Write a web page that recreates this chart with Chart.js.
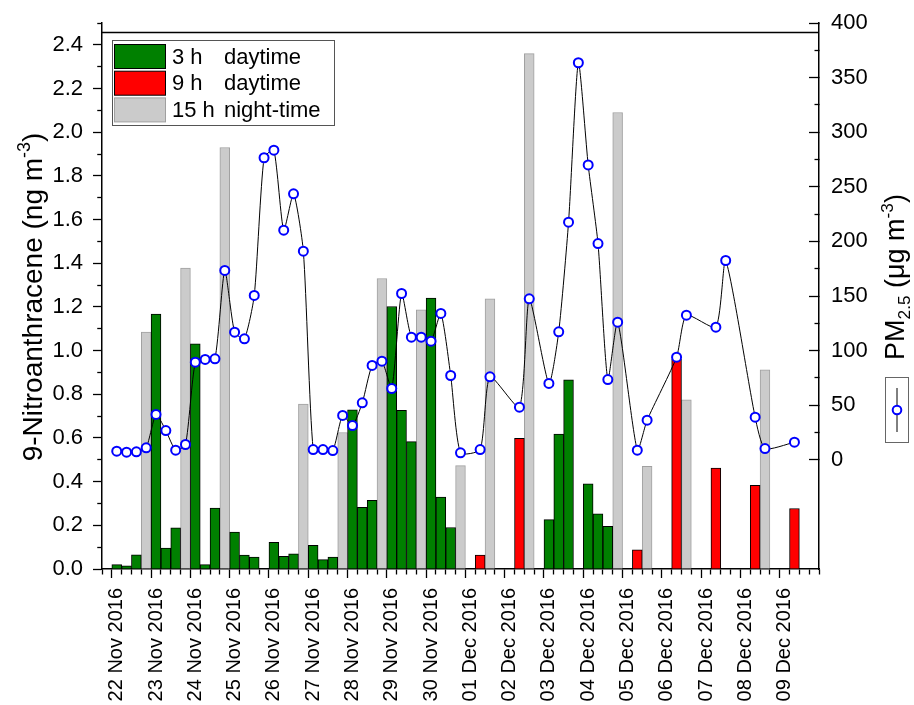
<!DOCTYPE html>
<html>
<head>
<meta charset="utf-8">
<script src="https://cdn.jsdelivr.net/npm/chart.js@4.4.0/dist/chart.umd.min.js"></script>
<style>
html,body{margin:0;padding:0;background:#ffffff;}
#wrap{width:914px;height:705px;position:relative;}
</style>
</head>
<body>
<div id="wrap"><canvas id="c" width="914" height="705"></canvas></div>
<script>
// ---- Data (sample time in days since 22 Nov 2016 00:00) ----
const dateLabels = ['22 Nov 2016','23 Nov 2016','24 Nov 2016','25 Nov 2016','26 Nov 2016','27 Nov 2016',
  '28 Nov 2016','29 Nov 2016','30 Nov 2016','01 Dec 2016','02 Dec 2016','03 Dec 2016','04 Dec 2016',
  '05 Dec 2016','06 Dec 2016','07 Dec 2016','08 Dec 2016','09 Dec 2016'];

const day3hTimes  = [0,0.25,0.5, 1,1.25,1.5, 2,2.25,2.5, 3,3.25,3.5, 4,4.25,4.5, 5,5.25,5.5,
                     6,6.25,6.5, 7,7.25,7.5, 8,8.25,8.5, 11,11.25,11.5, 12,12.25,12.5];
const day3hValues = [0.020,0.015,0.065, 1.167,0.096,0.188, 1.031,0.020,0.279, 0.169,0.064,0.055,
                     0.122,0.058,0.069, 0.108,0.043,0.055, 0.729,0.282,0.314, 1.202,0.726,0.583,
                     1.240,0.329,0.190, 0.226,0.618,0.866, 0.390,0.253,0.195];

const day9hTimes  = [9.25, 10.25, 13.25, 14.25, 15.25, 16.25, 17.25];
const day9hValues = [0.064, 0.598, 0.088, 0.960, 0.462, 0.383, 0.277];

const night15hTimes  = [0.75, 1.75, 2.75, 4.75, 5.75, 6.75, 7.75, 8.75, 9.5, 10.5, 12.75, 13.5, 14.5, 16.5];
const night15hValues = [1.085, 1.378, 1.930, 0.755, 0.625, 1.330, 1.187, 0.473, 1.237, 2.360, 2.090, 0.470, 0.775, 0.912];

const pmTimes  = [0,0.25,0.5,0.75, 1,1.25,1.5,1.75, 2,2.25,2.5,2.75, 3,3.25,3.5,3.75, 4,4.25,4.5,4.75,
                  5,5.25,5.5,5.75, 6,6.25,6.5,6.75, 7,7.25,7.5,7.75, 8,8.25,8.5,8.75, 9.25,9.5,
                  10.25,10.5, 11,11.25,11.5,11.75, 12,12.25,12.5,12.75, 13.25,13.5, 14.25,14.5,
                  15.25,15.5, 16.25,16.5, 17.25];
const pmValues = [7.9,7.0,7.3,11.0, 41.5,26.8,8.8,14.0, 89.4,91.9,92.5,173.4, 116.9,110.8,150.5,276.6,
                  283.5,210.3,243.6,191.0, 9.4,9.4,8.5,40.6, 31.4,52.2,86.4,90.3, 65.3,152.3,112.3,112.3,
                  108.6,134.0,77.2,6.4, 9.4,76.0, 48.2,147.4, 69.9,117.2,217.6,363.6, 270.0,198.0,73.5,126.0,
                  8.8,36.3, 94.0,132.4, 121.4,182.5, 39.0,10.3, 16.1];

const xTickValues  = []; for (let k = -1; k <= 71; k++) xTickValues.push(k / 4);
const yTickValues  = []; for (let k = 0; k <= 25; k++) yTickValues.push(k / 10);
const y2TickValues = []; for (let k = 0; k <= 16; k++) y2TickValues.push(k * 25);

const FONT = "'Liberation Sans', Arial, Helvetica, sans-serif";
Chart.defaults.font.family = FONT;
Chart.defaults.color = '#000';

function pts(xs, ys) { return xs.map((x, i) => ({x: x, y: ys[i]})); }

const isMajorX  = v => Number.isInteger(v);
const isMajorY  = v => Math.round(v * 10) % 2 === 0;
const isMajorY2 = v => Math.round(v) % 50 === 0;

// ---- decoration plugin: legend, rotated legend, titles with sub/superscripts, top frame ----
function drawRich(ctx, parts, cx, cy, size) {
  const small = size * 0.64;
  let total = 0;
  parts.forEach(p => {
    ctx.font = (p.sub || p.sup ? small : size) + 'px ' + FONT;
    p.w = ctx.measureText(p.t).width;
    total += p.w;
  });
  ctx.save();
  ctx.translate(cx, cy);
  ctx.rotate(-Math.PI / 2);
  ctx.textBaseline = 'alphabetic';
  ctx.textAlign = 'left';
  ctx.fillStyle = '#000';
  let u = -total / 2;
  parts.forEach(p => {
    ctx.font = (p.sub || p.sup ? small : size) + 'px ' + FONT;
    const dv = p.sup ? -size * 0.42 : (p.sub ? size * 0.22 : 0);
    ctx.fillText(p.t, u, dv);
    u += p.w;
  });
  ctx.restore();
}

const decor = {
  id: 'decor',
  afterDraw(chart) {
    const ctx = chart.ctx;
    const area = chart.chartArea;
    const ys = chart.scales.y;
    ctx.save();
    // top frame line
    const yTop = Math.round(ys.getPixelForValue(2.46)) + 0.5;
    ctx.strokeStyle = '#000';
    ctx.lineWidth = 1.5;
    ctx.beginPath();
    ctx.moveTo(area.left, yTop);
    ctx.lineTo(area.right, yTop);
    ctx.stroke();

    // bar legend (top-left box)
    const bx = 112.5, by = 40.5, bw = 222, bh = 85;
    ctx.fillStyle = '#fff';
    ctx.fillRect(bx, by, bw, bh);
    ctx.strokeStyle = '#555';
    ctx.lineWidth = 1;
    ctx.strokeRect(bx, by, bw, bh);
    const barSets = chart.data.datasets.filter(d => d.type !== 'line');
    ctx.font = '22px ' + FONT;
    ctx.textBaseline = 'middle';
    ctx.textAlign = 'left';
    barSets.forEach((d, i) => {
      const sy = 44.5 + i * 26.7;
      ctx.fillStyle = d.backgroundColor;
      ctx.fillRect(114.5, sy, 51, 24);
      ctx.strokeStyle = d.borderColor;
      ctx.lineWidth = 1;
      ctx.strokeRect(114.5, sy, 51, 24);
      const m = d.label.match(/^(\S+ h)\s+(.*)$/);
      ctx.fillStyle = '#000';
      ctx.fillText(m[1], 172, sy + 13);
      ctx.fillText(m[2], 224, sy + 13);
    });

    // axis titles
    drawRich(ctx, [{t: '9-Nitroanthracene (ng m'}, {t: '-3', sup: true}, {t: ')'}], 42, 297, 28);
    drawRich(ctx, [{t: 'PM'}, {t: '2.5', sub: true}, {t: ' (\u03bcg m'}, {t: '-3', sup: true}, {t: ')'}], 904, 277, 27);

    // PM2.5 legend (rotated)
    const line = chart.data.datasets.find(d => d.type === 'line');
    ctx.strokeStyle = '#666';
    ctx.lineWidth = 1;
    ctx.strokeRect(885.5, 377.5, 23, 65);
    ctx.strokeStyle = line.borderColor;
    ctx.beginPath();
    ctx.moveTo(897, 388);
    ctx.lineTo(897, 432);
    ctx.stroke();
    ctx.beginPath();
    ctx.arc(897, 410, 4.3, 0, Math.PI * 2);
    ctx.fillStyle = line.pointBackgroundColor;
    ctx.fill();
    ctx.strokeStyle = line.pointBorderColor;
    ctx.lineWidth = 2;
    ctx.stroke();
    ctx.restore();
  }
};

new Chart(document.getElementById('c'), {
  type: 'bar',
  data: {
    datasets: [
      { type: 'line', label: 'PM2.5', data: pts(pmTimes, pmValues), yAxisID: 'y2', order: 0,
        borderColor: '#000', borderWidth: 1, tension: 0.2,
        pointRadius: 4.5, pointHoverRadius: 4.5, pointBorderWidth: 2,
        pointBorderColor: '#0000ff', pointBackgroundColor: '#ffffff' },
      { label: '3 h   daytime', data: pts(day3hTimes, day3hValues), yAxisID: 'y', order: 1,
        backgroundColor: '#008000', borderColor: '#000000', borderWidth: 1 },
      { label: '9 h   daytime', data: pts(day9hTimes, day9hValues), yAxisID: 'y', order: 1,
        backgroundColor: '#ff0000', borderColor: '#000000', borderWidth: 1 },
      { label: '15 h night-time', data: pts(night15hTimes, night15hValues), yAxisID: 'y', order: 1,
        backgroundColor: '#cbcbcb', borderColor: '#a0a0a0', borderWidth: 1 }
    ]
  },
  options: {
    responsive: false,
    animation: false,
    events: [],
    layout: { padding: { top: 23, left: 0, right: 0, bottom: 0 } },
    datasets: { bar: { grouped: false, barPercentage: 1, categoryPercentage: 1 } },
    plugins: { legend: { display: false }, tooltip: { enabled: false } },
    scales: {
      x: {
        type: 'linear', position: 'bottom', min: -0.25, max: 17.75,
        afterBuildTicks: s => { s.ticks = xTickValues.map(v => ({value: v})); },
        afterFit: s => { s.height = 136; s.paddingLeft = 0; s.paddingRight = 0; },
        ticks: {
          autoSkip: false, minRotation: 90, maxRotation: 90, padding: 10,
          font: { size: 20 }, color: '#000',
          callback: v => isMajorX(v) ? dateLabels[v] : ''
        },
        grid: {
          drawOnChartArea: false, tickLength: 9, tickColor: '#000', tickWidth: 1.3,
          tickBorderDash: c => (c.tick && isMajorX(c.tick.value)) ? [] : [5, 40],
          tickBorderDashOffset: 0
        },
        border: { color: '#000', width: 1.5 }
      },
      y: {
        type: 'linear', position: 'left', min: 0, max: 2.5,
        afterBuildTicks: s => { s.ticks = yTickValues.map(v => ({value: v})); },
        afterFit: s => { s.width = 102; s.paddingTop = 0; s.paddingBottom = 0; },
        ticks: {
          autoSkip: false, padding: 10, font: { size: 22 }, color: '#000',
          callback: v => { const k = Math.round(v * 10); return (k % 2 === 0 && k <= 24) ? (k / 10).toFixed(1) : ''; }
        },
        grid: {
          drawOnChartArea: false, tickLength: 9, tickColor: '#000', tickWidth: 1.3,
          tickBorderDash: c => (c.tick && isMajorY(c.tick.value)) ? [] : [5, 40],
          tickBorderDashOffset: c => (c.tick && isMajorY(c.tick.value)) ? 0 : 40.75
        },
        border: { color: '#000', width: 1.5 }
      },
      y2: {
        type: 'linear', position: 'right', min: -100, max: 400,
        afterBuildTicks: s => { s.ticks = y2TickValues.map(v => ({value: v})); },
        afterFit: s => { s.width = 95; s.paddingTop = 0; s.paddingBottom = 0; },
        ticks: {
          autoSkip: false, padding: 22, font: { size: 22 }, color: '#000',
          callback: v => isMajorY2(v) ? String(v) : ''
        },
        grid: {
          drawOnChartArea: false, tickLength: -10, tickColor: '#000', tickWidth: 1.3,
          tickBorderDash: c => (c.tick && isMajorY2(c.tick.value)) ? [] : [5, 40],
          tickBorderDashOffset: 0
        },
        border: { color: '#000', width: 1.5 }
      }
    }
  },
  plugins: [decor]
});
</script>
</body>
</html>
